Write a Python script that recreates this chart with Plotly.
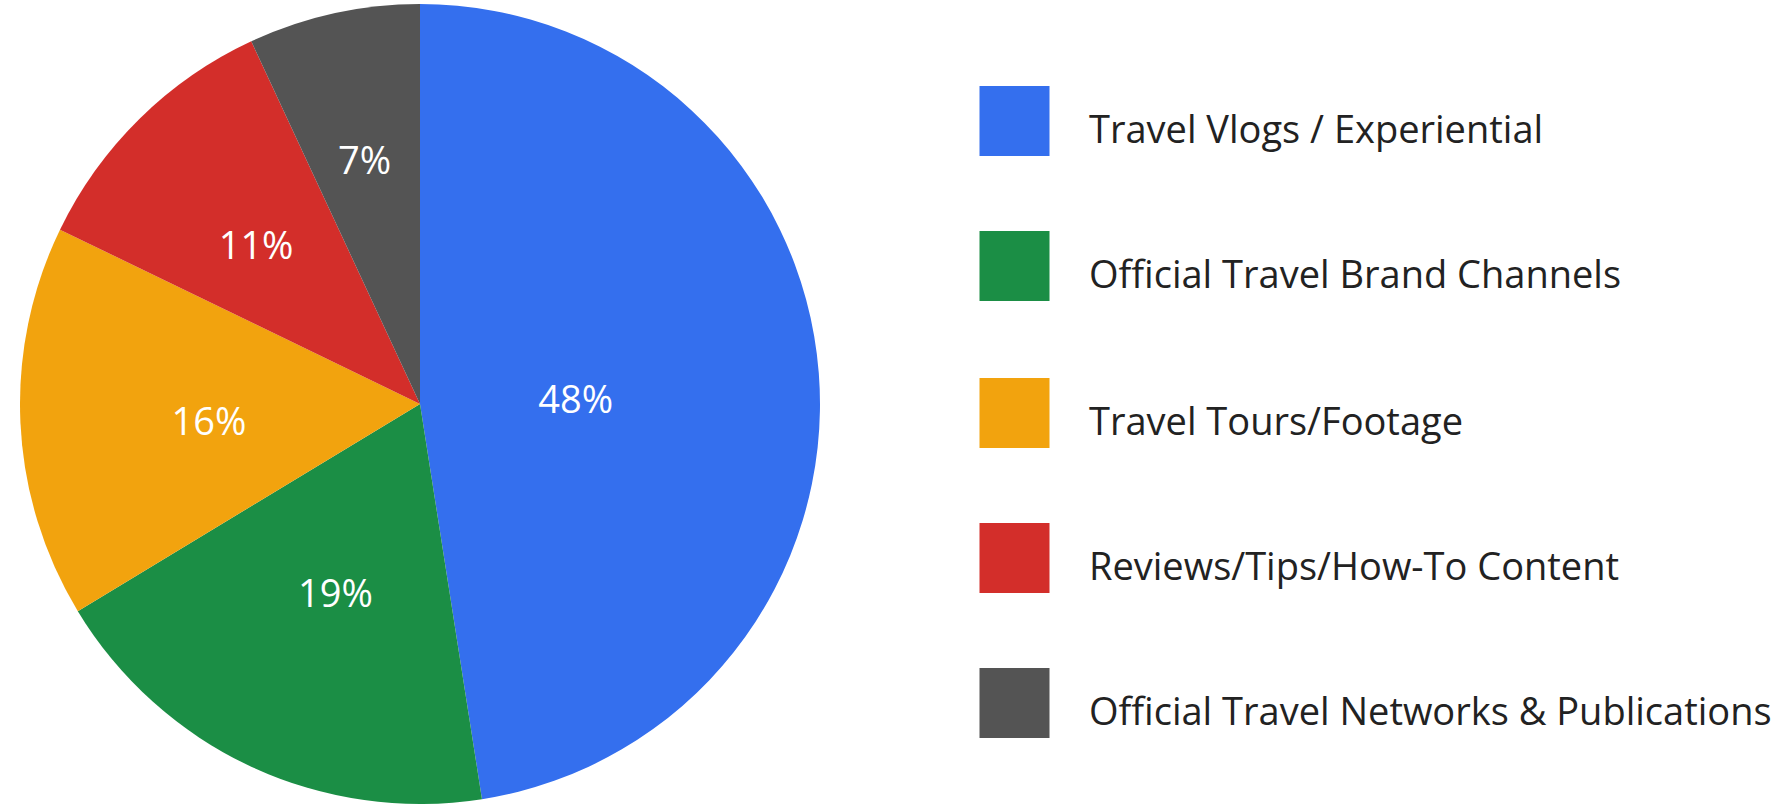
import plotly.graph_objects as go

categories = [
    "Travel Vlogs / Experiential",
    "Official Travel Brand Channels",
    "Travel Tours/Footage",
    "Reviews/Tips/How-To Content",
    "Official Travel Networks & Publications",
]
values = [48, 19, 16, 11, 7]
colors = ["#346FEE", "#1B8E45", "#F2A30E", "#D32E2A", "#545454"]

W, H = 1785, 806
FONT = "Open Sans"
CX, CY, R = 420, 404, 400
K = 0.78  # radius of the label carrier pie, relative to the pie

def dom(r, cy=CY):
    return dict(x=[(CX - r) / W, (CX + r) / W], y=[1 - (cy + r) / H, 1 - (cy - r) / H])

fig = go.Figure()

fig.add_trace(go.Pie(
    labels=categories,
    values=values,
    sort=False,
    direction="clockwise",
    rotation=0,
    marker=dict(colors=colors, line=dict(width=0)),
    textinfo="none",
    domain=dom(R),
    showlegend=False,
    hoverinfo="label+percent",
))

# transparent inner pie carrying the percentage labels (closer to the centre)
fig.add_trace(go.Pie(
    labels=categories,
    values=values,
    sort=False,
    direction="clockwise",
    rotation=0,
    marker=dict(colors=["rgba(0,0,0,0)"] * len(values), line=dict(width=0)),
    texttemplate="%{value}%",
    textposition="inside",
    insidetextorientation="horizontal",
    textfont=dict(family=FONT, size=38, color="white"),
    domain=dom(R * K, CY + 6),
    showlegend=False,
    hoverinfo="skip",
))

# legend drawn as a scatter on a hidden pixel-like axis
leg_y = [121, 266, 413, 558, 703]
fig.add_trace(go.Scatter(
    x=[1014.5] * len(categories),
    y=leg_y,
    mode="markers",
    marker=dict(symbol="square", size=70, color=colors, line=dict(width=0)),
    showlegend=False,
    hoverinfo="skip",
))
fig.add_trace(go.Scatter(
    x=[1089] * len(categories),
    y=[v + 12 for v in leg_y],
    mode="text",
    text=categories,
    textposition="middle right",
    textfont=dict(family=FONT, size=38, color="#222222"),
    showlegend=False,
    hoverinfo="skip",
))

fig.update_layout(
    width=W,
    height=H,
    margin=dict(l=0, r=0, t=0, b=0),
    paper_bgcolor="white",
    plot_bgcolor="rgba(0,0,0,0)",
    xaxis=dict(range=[0, W], visible=False, fixedrange=True, domain=[0, 1]),
    yaxis=dict(range=[H, 0], visible=False, fixedrange=True, domain=[0, 1]),
)

fig.write_html("out.html")
